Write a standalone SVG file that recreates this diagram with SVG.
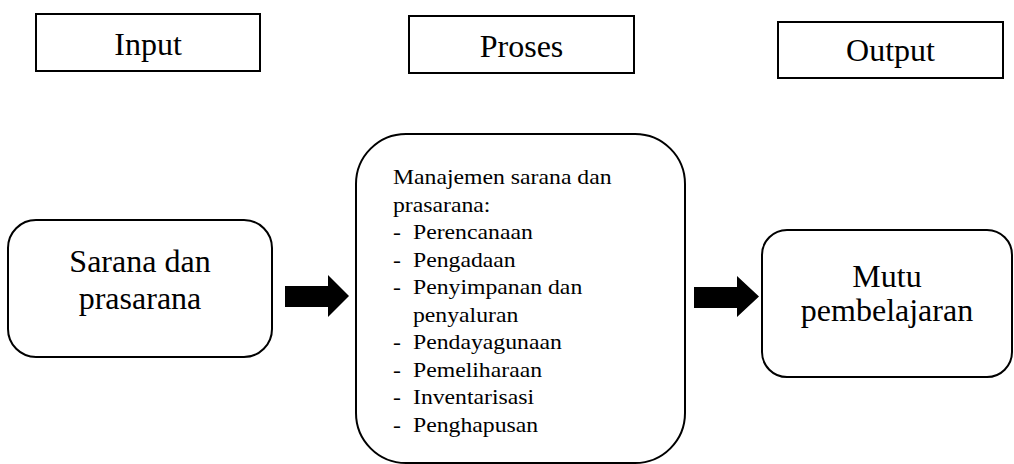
<svg xmlns="http://www.w3.org/2000/svg" width="1014" height="464" viewBox="0 0 1014 464">
<style>
.box{fill:#fff;stroke:#000;stroke-width:2}
.t{font-family:"Liberation Serif","Times New Roman",serif;fill:#000}
.big{font-size:32px;text-anchor:middle}
.small{font-size:21px}
.arr{fill:#000;stroke:none}
</style>
<rect width="1014" height="464" fill="#fff"/>
<g id="input">
<rect class="box" x="36" y="14" width="224" height="57"/>
<text class="t big" x="148" y="55">Input</text>
</g>
<g id="proses">
<rect class="box" x="409" y="16" width="225" height="57"/>
<text class="t big" x="521.5" y="57">Proses</text>
</g>
<g id="output">
<rect class="box" x="778" y="22" width="225" height="56"/>
<text class="t big" x="890.5" y="61">Output</text>
</g>
<g id="sarana">
<rect class="box" x="8" y="220" width="264" height="137" rx="28"/>
<text class="t big" x="140" y="272">Sarana dan</text>
<text class="t big" x="140" y="309">prasarana</text>
</g>
<g id="manajemen">
<rect class="box" x="356" y="134" width="329" height="329" rx="50"/>
<g class="t small" transform="translate(393,0) scale(1.13,1)">
<text x="0" y="184.5">Manajemen sarana dan</text>
<text x="0" y="212">prasarana:</text>
<text x="0" y="239.5">-</text><text x="17.7" y="239.5">Perencanaan</text>
<text x="0" y="267">-</text><text x="17.7" y="267">Pengadaan</text>
<text x="0" y="294.5">-</text><text x="17.7" y="294.5">Penyimpanan dan</text>
<text x="17.7" y="322">penyaluran</text>
<text x="0" y="349.5">-</text><text x="17.7" y="349.5">Pendayagunaan</text>
<text x="0" y="377">-</text><text x="17.7" y="377">Pemeliharaan</text>
<text x="0" y="404.5">-</text><text x="17.7" y="404.5">Inventarisasi</text>
<text x="0" y="432">-</text><text x="17.7" y="432">Penghapusan</text>
</g>
</g>
<g id="mutu">
<rect class="box" x="762" y="230" width="250" height="147" rx="25"/>
<text class="t big" x="887" y="287">Mutu</text>
<text class="t big" x="887" y="321">pembelajaran</text>
</g>
<g id="connectors">
<polygon class="arr" points="285,286 328,286 328,275 349,296 328,317 328,307 285,307"/>
<polygon class="arr" points="694,287 737,287 737,276 759,296.5 737,317 737,308 694,308"/>
</g>
</svg>
